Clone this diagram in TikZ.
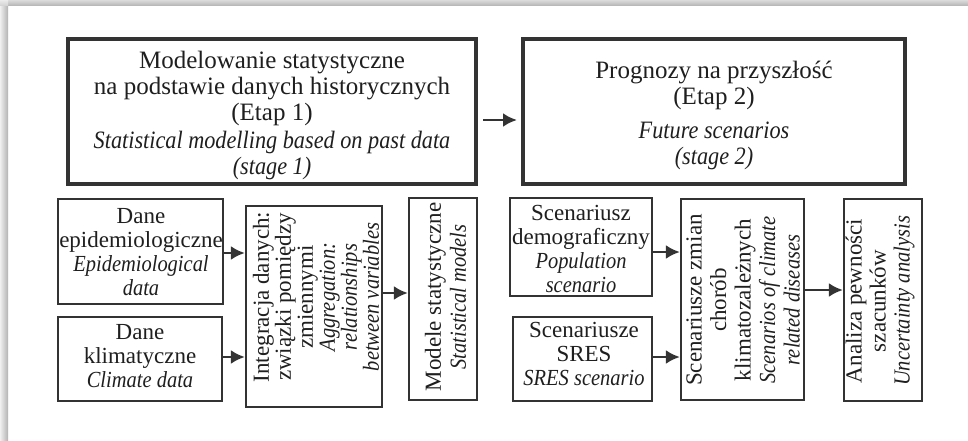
\documentclass[tikz,border=0pt]{standalone}
\usepackage{fontspec}
\setmainfont{Liberation Serif}[ItalicFeatures={FakeStretch=0.89}]
\usetikzlibrary{arrows.meta,calc}
\tikzset{
  bigbox/.style={draw=black!80, line width=4pt, inner sep=0pt},
  smallbox/.style={draw=black!80, line width=2.2pt, inner sep=0pt},
  bigtext/.style={align=center, text=black!88, font=\fontsize{25}{26}\selectfont, inner sep=0pt},
  smalltext/.style={align=center, text=black!88, font=\fontsize{23}{24}\selectfont, inner sep=0pt},
  arr/.style={-{Latex[length=14pt,width=14pt]}, line width=2.8pt, draw=black!80}
}
\begin{document}
\begin{tikzpicture}[x=1pt,y=-1pt]
\useasboundingbox (0,0) rectangle (968,441);
\fill[white] (0,0) rectangle (968,441);
% frame shadow
\shade[left color=black!6, right color=black!30] (0,6) rectangle (8,441);
\shade[top color=black!14, bottom color=black!30] (8,0) rectangle (968,6);
\shade[top color=black!8, bottom color=black!18] (0,0) rectangle (8,6);

% big boxes
\node[bigbox, minimum width=408pt, minimum height=145pt] (b1) at (272,111.5) {};
\node[bigtext] (t1) at (272,115) {Modelowanie statystyczne\\na podstawie danych historycznych\\(Etap 1)\\[2pt]\textit{Statistical modelling based on past data}\\\textit{(stage 1)}};
\node[bigbox, minimum width=382pt, minimum height=145pt] (b2) at (714,111.5) {};
\node[bigtext] (t2) at (714,115) {Prognozy na przyszłość\\(Etap 2)\\[8pt]\textit{Future scenarios}\\\textit{(stage 2)}};

% small boxes, left part
\node[smallbox, minimum width=165pt, minimum height=105pt] (epid) at (140.5,251.5) {};
\node[smalltext] (epidt) at (141,252) {Dane\\epidemiologiczne\\\textit{Epidemiological}\\\textit{data}};
\node[smallbox, minimum width=164pt, minimum height=84pt] (klim) at (140,359) {};
\node[smalltext] (klimt) at (140,356) {Dane\\klimatyczne\\\textit{Climate data}};
\node[smallbox, minimum width=136pt, minimum height=201pt] (integ) at (314,306.5) {};
\node[smalltext, rotate=90, font=\fontsize{23}{22}\selectfont] (integt) at (316,297) {Integracja danych:\\związki pomiędzy\\zmiennymi\hspace*{1.9em}\\\textit{Aggregation:}\\\textit{relationships}\\\textit{between variables}};
\node[smallbox, minimum width=68pt, minimum height=202pt] (model) at (443,299) {};
\node[smalltext, rotate=90, font=\fontsize{23}{25}\selectfont] (modelt) at (445.5,297) {Modele statystyczne\\\textit{Statistical models}};

% small boxes, right part
\node[smallbox, minimum width=142pt, minimum height=98pt] (demo) at (581,247) {};
\node[smalltext] (demot) at (581,249) {Scenariusz\\demograficzny\\\textit{Population}\\\textit{scenario}};
\node[smallbox, minimum width=139pt, minimum height=84pt] (sres) at (582.5,359) {};
\node[smalltext] (srest) at (584,354) {Scenariusze\\SRES\\\textit{SRES scenario}};
\node[smallbox, minimum width=123pt, minimum height=201pt] (zmian) at (742.5,299.5) {};
\node[smalltext, rotate=90, font=\fontsize{23}{24.5}\selectfont] (zmiant) at (743,300) {Scenariusze zmian\\chorób\\klimatozależnych\\\textit{Scenarios of climate}\\\textit{related diseases}};
\node[smallbox, minimum width=78pt, minimum height=202pt] (anal) at (883,300) {};
\node[smalltext, rotate=90] (analt) at (880,301) {Analiza pewności\\szacunków\\\textit{Uncertainty analysis}};

% connector start points
\coordinate (s0) at ($(b1.east)+(0,8.5)$);
\coordinate (s1) at ($(epid.east)+(0,1.5)$);
\coordinate (s2) at ($(klim.east)+(0,-2)$);
\coordinate (s3) at ($(integ.east)+(0,-13.5)$);
\coordinate (s4) at ($(demo.east)+(0,5)$);
\coordinate (s5) at ($(sres.east)+(0,-2)$);
\coordinate (s6) at ($(zmian.east)+(0,-9.5)$);

% connectors
\draw[arr, shorten <=5pt, shorten >=4pt] (s0) -- (s0 -| b2.west);
\draw[arr] (s1) -- (s1 -| integ.west);
\draw[arr] (s2) -- (s2 -| integ.west);
\draw[arr] (s3) -- (s3 -| model.west);
\draw[arr] (s4) -- (s4 -| zmian.west);
\draw[arr] (s5) -- (s5 -| zmian.west);
\draw[arr] (s6) -- (s6 -| anal.west);
\end{tikzpicture}
\end{document}
